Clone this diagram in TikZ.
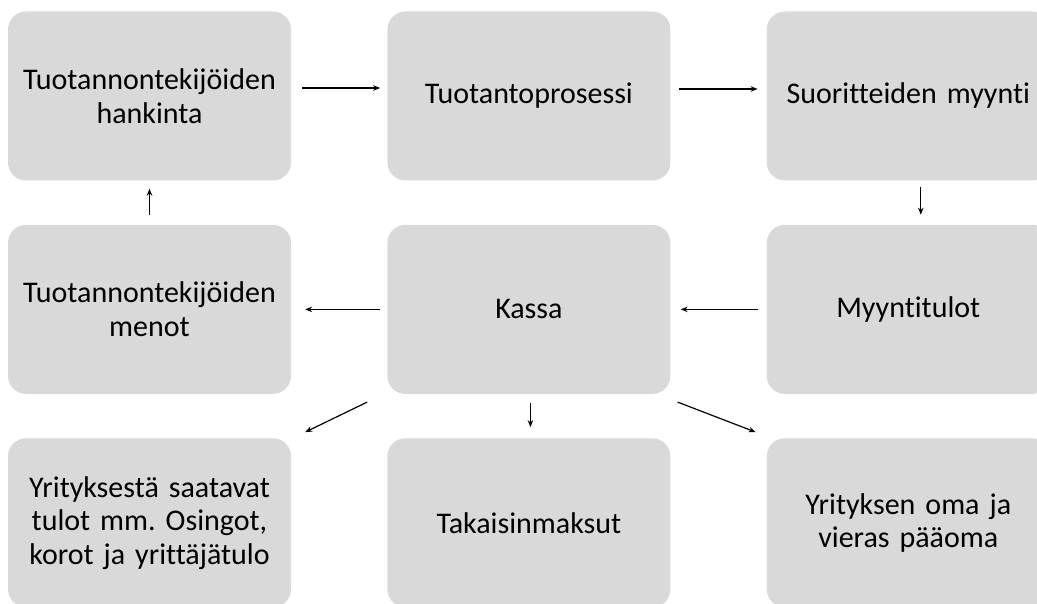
\documentclass[tikz,border=0pt]{standalone}
\usepackage{fontspec}
\setmainfont{Carlito}[Ligatures=NoCommon]
\usetikzlibrary{positioning,arrows.meta}

\tikzset{
  box/.style={rectangle, rounded corners=18pt, fill=boxgray, minimum width=283pt,
    minimum height=169pt, inner sep=4pt, text width=272pt, align=center,
    font=\fontsize{30}{33.5}\selectfont\frenchspacing},
  arr/.style={-{Stealth[length=7pt,width=5.5pt]}, line width=1.2pt}
}
\definecolor{boxgray}{HTML}{D9D9D9}

\begin{document}
\begin{tikzpicture}[x=1pt, y=-1pt]
        \useasboundingbox (0,0) rectangle (1037,604);
        % Nodes
        \node (hankinta) [box] at (149.5,96) {Tuotannontekijöiden\\hankinta};
        \node (prosessi) [box, right=96pt of hankinta] {Tuotantoprosessi};
        \node (myynti) [box, right=96pt of prosessi] {Suoritteiden myynti};
        \node (menot) [box, below=44pt of hankinta] {Tuotannontekijöiden\\menot};
        \node (kassa) [box, right=96pt of menot] {Kassa};
        \node (tulot) [box, right=96pt of kassa] {Myyntitulot};
        \node (osingot) [box, below=44pt of menot] {Yrityksestä saatavat\\tulot mm. Osingot,\\korot ja yrittäjätulo};
        \node (maksut) [box, right=96pt of osingot] {Takaisinmaksut};
        \node (paaoma) [box, right=96pt of maksut] {Yrityksen oma ja\\vieras pääoma};

        % Edges
        \draw[arr, shorten <=11pt, shorten >=7pt] ([yshift=8pt]hankinta.east) -- ([yshift=8pt]prosessi.west);
        \draw[arr, shorten <=8pt, shorten >=9pt] ([yshift=7pt]prosessi.east) -- ([yshift=7pt]myynti.west);
        \draw[arr, shorten <=6pt, shorten >=10pt] ([xshift=12.5pt]myynti.south) -- ([xshift=12.5pt]tulot.north);
        \draw[arr, shorten <=9pt, shorten >=10pt] (tulot.west) -- (kassa.east);
        \draw[arr, shorten <=7pt, shorten >=14pt] (kassa.west) -- (menot.east);
        \draw[arr, shorten <=10pt, shorten >=8pt] (menot.north) -- (hankinta.south);
        \draw[arr, shorten <=9pt, shorten >=11pt] ([xshift=1.5pt]kassa.south) -- ([xshift=1.5pt]maksut.north);
        \draw[arr] ([shift={(-20pt,-8pt)}]kassa.south west) -- ([shift={(14pt,6pt)}]osingot.north east);
        \draw[arr] ([shift={(7pt,-8pt)}]kassa.south east) -- ([shift={(-11pt,6pt)}]paaoma.north west);
    \end{tikzpicture}
\end{document}
